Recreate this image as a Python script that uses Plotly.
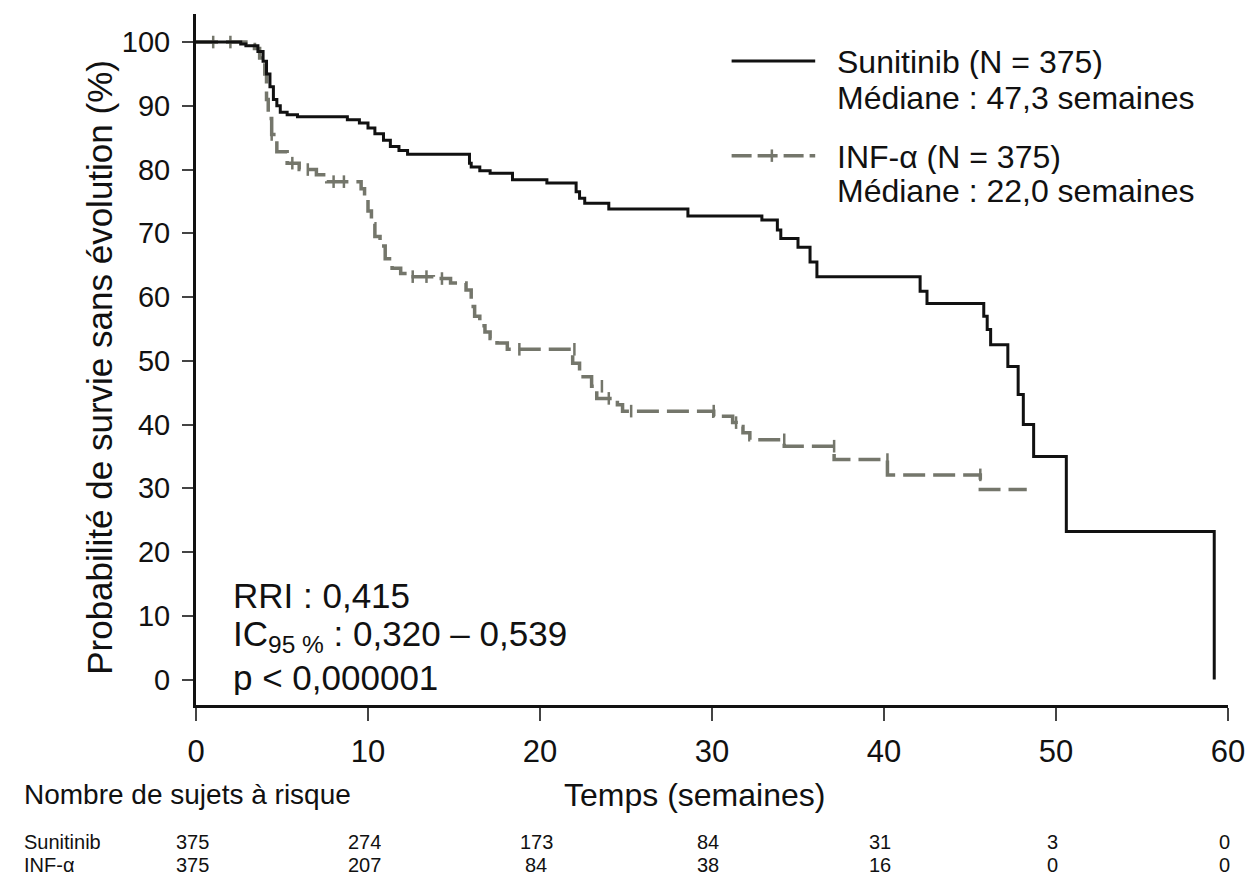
import plotly.graph_objects as go

# Sunitinib curve (weeks, % progression-free), step function
sun_t = [0, 2.6, 2.9, 3.6, 3.9, 4.1, 4.3, 4.5, 4.7, 4.9, 5.3, 5.9, 8.8, 9.5, 10.0, 10.4,
         10.9, 11.3, 11.8, 12.3, 15.9, 16.0, 16.5, 17.1, 18.4, 20.4, 22.1, 22.3, 22.6,
         24.0, 28.6, 32.9, 33.8, 34.0, 35.0, 35.7, 36.1, 42.1, 42.5, 45.8, 46.0, 46.2,
         47.2, 47.8, 48.1, 48.7, 50.6, 59.2]
sun_s = [100, 99.7, 99.4, 98.5, 97.0, 95.0, 93.0, 91.0, 90.0, 89.0, 88.6, 88.3, 87.8,
         87.3, 86.5, 85.6, 84.6, 83.6, 83.0, 82.4, 81.0, 80.4, 79.8, 79.4, 78.4, 77.9,
         76.5, 75.5, 74.7, 73.8, 72.7, 72.1, 70.5, 69.2, 67.8, 65.5, 63.2, 60.9, 59.0,
         57.0, 54.9, 52.5, 49.1, 44.7, 40.0, 35.0, 23.2, 0]

# INF-alpha curve
inf_t = [0, 2.9, 3.4, 3.7, 4.0, 4.1, 4.2, 4.4, 4.7, 5.3, 6.0, 7.0, 7.6, 9.6, 9.8, 10.0,
         10.2, 10.4, 10.7, 11.0, 11.4, 11.9, 12.4, 13.8, 14.8, 15.7, 16.0, 16.2, 16.5,
         16.8, 17.1, 17.5, 18.1, 21.9, 22.3, 23.0, 23.3, 24.5, 24.8, 30.1, 31.2, 31.4,
         31.8, 32.2, 34.2, 37.1, 40.2, 45.6, 48.3]
inf_s = [100, 99.6, 99.0, 97.5, 95.0, 91.0, 88.0, 85.5, 82.8, 81.0, 80.0, 79.2, 78.1,
         77.0, 75.5, 73.5, 71.5, 69.5, 68.0, 66.0, 64.5, 63.7, 63.2, 62.9, 62.2, 61.1,
         58.5, 57.0, 55.5, 54.5, 53.5, 52.8, 51.8, 49.6, 47.5, 46.0, 44.1, 43.1, 42.1,
         41.3, 40.3, 39.7, 38.7, 37.6, 36.6, 34.5, 32.1, 29.8, 29.8]

# censoring marks on the INF-alpha curve
cens_t = [1.0, 2.0, 4.4, 5.6, 6.5, 8.0, 8.6, 12.6, 13.4, 14.3, 18.8, 22.0, 23.6, 24.0,
          25.3, 30.1, 31.4, 34.2, 37.1, 40.2, 45.6]
cens_s = [100, 100, 85.5, 81.0, 80.0, 78.1, 78.1, 63.2, 63.2, 62.9, 51.8, 51.8, 46.0,
          44.1, 42.1, 42.1, 40.3, 37.6, 36.6, 34.5, 32.1]

x_ticks = [0, 10, 20, 30, 40, 50, 60]
risk_sun = ["375", "274", "173", "84", "31", "3", "0"]
risk_inf = ["375", "207", "84", "38", "16", "0", "0"]

BLACK = "#111111"
GREY = "#74766b"
FONT = "Liberation Sans, Arial, Helvetica, sans-serif"

fig = go.Figure()
fig.add_trace(go.Scatter(x=inf_t, y=inf_s, mode="lines", line_shape="hv",
                         line=dict(color=GREY, width=3.5, dash="22px,8px"),
                         name="INF-α"))
fig.add_trace(go.Scatter(x=cens_t, y=cens_s, mode="markers",
                         marker=dict(symbol="line-ns", size=9,
                                     line=dict(color=GREY, width=2.5)),
                         showlegend=False))
fig.add_trace(go.Scatter(x=sun_t, y=sun_s, mode="lines", line_shape="hv",
                         line=dict(color=BLACK, width=3), name="Sunitinib"))

ann = []
# legend, drawn by hand
shapes = [
    dict(type="line", xref="paper", yref="paper", x0=0.519, x1=0.600, y0=0.932, y1=0.932,
         line=dict(color=BLACK, width=3)),
    dict(type="line", xref="paper", yref="paper", x0=0.519, x1=0.600, y0=0.795, y1=0.795,
         line=dict(color=GREY, width=3.5, dash="20px,6px")),
    dict(type="line", xref="paper", yref="paper", x0=0.558, x1=0.558, y0=0.786, y1=0.804,
         line=dict(color=GREY, width=2.5)),
]
leg_lines = ["Sunitinib (N = 375)", "Médiane : 47,3 semaines",
             "INF-α (N = 375)", "Médiane : 22,0 semaines"]
leg_y = [0.931, 0.879, 0.793, 0.744]
for s, yy in zip(leg_lines, leg_y):
    ann.append(dict(xref="paper", yref="paper", x=0.619, y=yy, xanchor="left",
                    yanchor="middle", showarrow=False, text=s, height=34,
                    font=dict(size=32, color=BLACK, family=FONT)))

# statistics text
stats = ["RRI : 0,415", "IC<sub>95 %</sub> : 0,320 – 0,539", "p &lt; 0,000001"]
stats_y = [0.159, 0.100, 0.040]
for s, yy in zip(stats, stats_y):
    ann.append(dict(xref="paper", yref="paper", x=0.034, y=yy, xanchor="left",
                    yanchor="middle", showarrow=False, text=s, height=36,
                    font=dict(size=35, color=BLACK, family=FONT)))

# y title
ann.append(dict(xref="paper", yref="paper", x=-0.093, y=0.488, textangle=-90,
                xanchor="center", yanchor="middle", showarrow=False,
                text="Probabilité de survie sans évolution (%)",
                font=dict(size=35, color=BLACK, family=FONT)))
# x title and risk table
ann.append(dict(xref="paper", yref="paper", x=0.483, y=-0.130, xanchor="center",
                yanchor="middle", showarrow=False, text="Temps (semaines)",
                font=dict(size=32, color=BLACK, family=FONT)))
ann.append(dict(xref="paper", yref="paper", x=-0.1686, y=-0.130, xanchor="left",
                yanchor="middle", showarrow=False, text="Nombre de sujets à risque",
                font=dict(size=28, color=BLACK, family=FONT)))
for lab, yy in [("Sunitinib", -0.197), ("INF-α", -0.231)]:
    ann.append(dict(xref="paper", yref="paper", x=-0.1686, y=yy, xanchor="left",
                    yanchor="middle", showarrow=False, text=lab, height=21,
                    font=dict(size=20, color=BLACK, family=FONT)))
for xt, a, b in zip(x_ticks, risk_sun, risk_inf):
    ann.append(dict(xref="x", yref="paper", x=xt, y=-0.197, xshift=-4, xanchor="center",
                    yanchor="middle", showarrow=False, text=a, height=21,
                    font=dict(size=20, color=BLACK, family=FONT)))
    ann.append(dict(xref="x", yref="paper", x=xt, y=-0.231, xshift=-4, xanchor="center",
                    yanchor="middle", showarrow=False, text=b, height=21,
                    font=dict(size=20, color=BLACK, family=FONT)))

fig.update_layout(
    width=1256, height=878,
    margin=dict(l=196, r=28, t=14, b=173, autoexpand=False),
    paper_bgcolor="white", plot_bgcolor="white",
    showlegend=False,
    font=dict(family=FONT, color=BLACK),
    annotations=ann, shapes=shapes,
)
fig.update_xaxes(range=[0, 60], tickvals=x_ticks, showgrid=False, zeroline=False,
                 showline=True, linecolor=BLACK, linewidth=3, ticks="outside",
                 ticklen=13, tickwidth=2, tickcolor="#444", ticklabelstandoff=4,
                 tickfont=dict(size=31, family=FONT, color=BLACK))
fig.update_yaxes(range=[-4, 104.4], tickvals=list(range(0, 101, 10)), showgrid=False,
                 zeroline=False, showline=True, linecolor=BLACK, linewidth=3,
                 ticks="outside", ticklen=11, tickwidth=2, tickcolor="#444",
                 ticklabelstandoff=6, tickfont=dict(size=29, family=FONT, color=BLACK))

# page body has a default 8px margin; drop it so the figure sits at the window corner
fig.write_html("out.html", config={"displayModeBar": False},
               post_script="document.body.style.margin='0px';")
